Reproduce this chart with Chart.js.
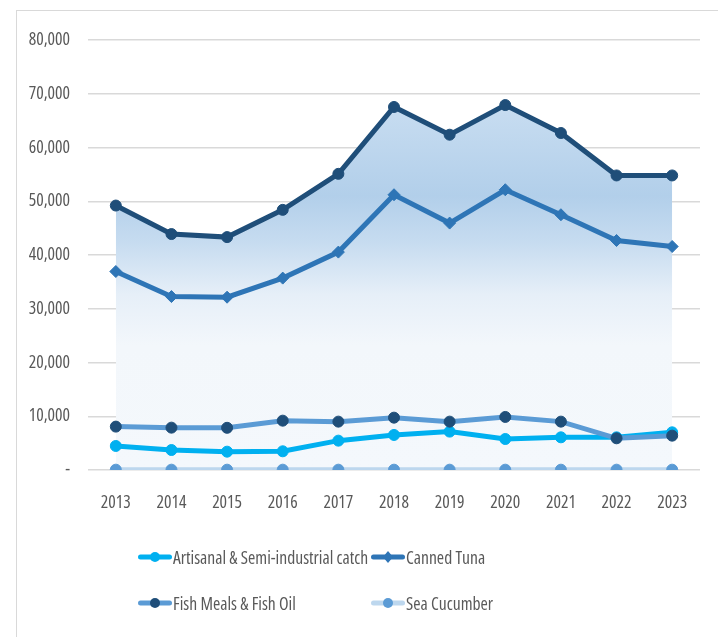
<!DOCTYPE html>
<html>
<head>
<meta charset="utf-8">
<script src="https://cdn.jsdelivr.net/npm/chart.js@4.4.1/dist/chart.umd.min.js"></script>
<style>
  html, body { margin:0; padding:0; background:#fff; }
  #wrap { position:relative; width:718px; height:637px; overflow:hidden; }
  #frame { position:absolute; left:16px; top:10px; width:720px; height:640px; border:1px solid #D9D9D9; box-sizing:border-box; }
  canvas { position:absolute; left:0; top:0; }
  .lg { position:absolute; display:flex; align-items:center; font-family:"Open Sans",sans-serif; font-stretch:condensed; font-size:17.6px; color:#595959; white-space:nowrap; }
  .lg canvas { position:static; }
</style>
</head>
<body>
<div id="wrap">
  <div id="frame"></div>
  <canvas id="c" width="718" height="637"></canvas>
  <div id="legend"></div>
</div>
<script>
const years = ["2013","2014","2015","2016","2017","2018","2019","2020","2021","2022","2023"];
const artisanal = [4470, 3720, 3410, 3480, 5460, 6520, 7140, 5770, 6080, 6080, 7010];
const cannedTuna = [36930, 32270, 32150, 35700, 40540, 51210, 45940, 52140, 47490, 42700, 41580];
const fishMeal = [8070, 7880, 7850, 9180, 9000, 9740, 9000, 9870, 9000, 5900, 6390];
const seaCucumber = [60, 60, 60, 60, 60, 60, 60, 60, 60, 60, 60];
const total = [49200, 43900, 43330, 48400, 55100, 67540, 62380, 67900, 62700, 54800, 54800];
const seriesNames = ["Artisanal & Semi-industrial catch", "Canned Tuna", "Fish Meals & Fish Oil", "Sea Cucumber"];
const yTicks = [0, 10000, 20000, 30000, 40000, 50000, 60000, 70000, 80000];

const FONT = "'Open Sans', sans-serif";

function areaGradient(ctx) {
  const chart = ctx.chart;
  const area = chart.chartArea;
  const y = chart.scales.y;
  if (!area || !y) return 'rgba(200,221,241,0.8)';
  const top = y.getPixelForValue(68000), bot = y.getPixelForValue(0);
  if (!isFinite(top) || !isFinite(bot)) return 'rgba(200,221,241,0.8)';
  const g = chart.ctx.createLinearGradient(0, top, 0, bot);
  g.addColorStop(0, '#C8DDF1');
  g.addColorStop(0.25, '#B2CFEA');
  g.addColorStop(0.38, '#C7DCF0');
  g.addColorStop(0.52, '#E6EFF8');
  g.addColorStop(0.66, '#F3F7FB');
  g.addColorStop(1, '#F4F8FC');
  return g;
}

const styles = [
  { line:'#00B0F0', point:'#00B0F0', shape:'circle', r:5.5 },
  { line:'#2E75B6', point:'#2E75B6', shape:'rectRot', r:6 },
  { line:'#5B9BD5', point:'#1F4E79', shape:'circle', r:5.5 },
  { line:'#BDD7EE', point:'#5B9BD5', shape:'circle', r:5.5 }
];
const seriesData = [artisanal, cannedTuna, fishMeal, seaCucumber];

const datasets = [{
  label: 'Total',
  data: total,
  borderColor: '#1F4E79',
  backgroundColor: areaGradient,
  fill: 'origin',
  borderWidth: 5,
  pointRadius: 5.5,
  pointHoverRadius: 5.5,
  pointStyle: 'circle',
  pointBackgroundColor: '#1F4E79',
  pointBorderColor: '#1F4E79',
  pointBorderWidth: 1,
  tension: 0,
  order: 5
}];
seriesData.forEach((d, i) => {
  datasets.push({
    label: seriesNames[i],
    data: d,
    borderColor: styles[i].line,
    backgroundColor: styles[i].line,
    fill: false,
    borderWidth: 5,
    pointRadius: styles[i].r,
    pointHoverRadius: styles[i].r,
    pointStyle: styles[i].shape,
    pointBackgroundColor: styles[i].point,
    pointBorderColor: styles[i].point,
    pointBorderWidth: 1,
    tension: 0,
    order: 4 - i
  });
});

new Chart(document.getElementById('c'), {
  type: 'line',
  data: { labels: years, datasets },
  options: {
    responsive: false,
    animation: false,
    devicePixelRatio: 1,
    layout: { padding: { top: 40, right: 18, left: 0, bottom: 0 } },
    plugins: { legend: { display: false }, tooltip: { enabled: false } },
    scales: {
      x: {
        offset: true,
        grid: { display: false, drawTicks: false },
        border: { display: false },
        ticks: { color: '#595959', font: { family: FONT, size: 17.6, weight: 'condensed' }, padding: 22, maxRotation: 0 },
        afterFit: s => { s.height = 637 - 470; }
      },
      y: {
        min: 0, max: 80000,
        afterBuildTicks: s => { s.ticks = yTicks.map(v => ({ value: v })); },
        grid: { color: '#D9D9D9', lineWidth: 1.5, drawTicks: false },
        border: { display: false },
        ticks: {
          color: '#595959', font: { family: FONT, size: 17.6, weight: 'condensed' }, padding: 18,
          callback: v => v === 0 ? '-' : v.toLocaleString('en-US')
        },
        afterFit: s => { s.width = 88; }
      }
    }
  }
});

// HTML legend
const legendPos = [
  { x: 138, y: 557 }, { x: 371, y: 557 },
  { x: 138, y: 603 }, { x: 371, y: 603 }
];
const lg = document.getElementById('legend');
seriesNames.forEach((name, i) => {
  const item = document.createElement('div');
  item.className = 'lg';
  item.style.left = legendPos[i].x + 'px';
  item.style.top = (legendPos[i].y - 12) + 'px';
  item.style.height = '24px';
  const cv = document.createElement('canvas');
  cv.width = 34; cv.height = 24;
  const cx = cv.getContext('2d');
  cx.strokeStyle = styles[i].line; cx.lineWidth = 5; cx.lineCap = 'round';
  cx.beginPath(); cx.moveTo(2.5, 12); cx.lineTo(31.5, 12); cx.stroke();
  cx.fillStyle = styles[i].point;
  if (styles[i].shape === 'circle') {
    cx.beginPath(); cx.arc(17, 12, 5, 0, Math.PI * 2); cx.fill();
  } else {
    cx.beginPath(); cx.moveTo(17, 6); cx.lineTo(22, 12); cx.lineTo(17, 18); cx.lineTo(12, 12); cx.closePath(); cx.fill();
  }
  item.appendChild(cv);
  const t = document.createElement('span');
  t.textContent = name;
  t.style.marginLeft = '1px';
  item.appendChild(t);
  lg.appendChild(item);
});
</script>
</body>
</html>
